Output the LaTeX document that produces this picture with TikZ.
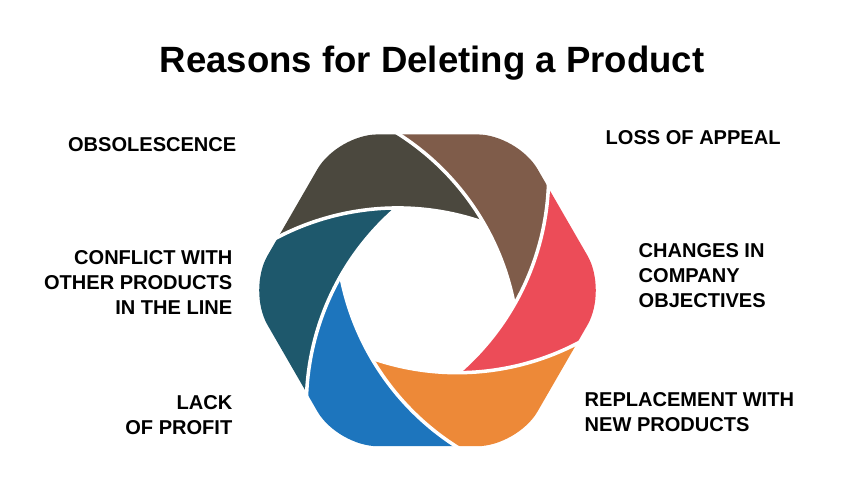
\documentclass[tikz,border=0pt]{standalone}
\usepackage{fontspec}
\setmainfont{Liberation Sans}
\usepackage{xcolor}
\definecolor{swirlDark}{HTML}{4B483E}
\definecolor{swirlBrown}{HTML}{7F5C4A}
\definecolor{swirlRed}{HTML}{EC4C58}
\definecolor{swirlOrange}{HTML}{ED8938}
\definecolor{swirlBlue}{HTML}{1D75BD}
\definecolor{swirlTeal}{HTML}{1E586C}
\tikzset{
	heading/.style={inner sep=0pt, font=\fontsize{10.4}{12}\selectfont\bfseries},
	reason/.style={inner sep=0pt, font=\fontsize{5.7}{7.1}\selectfont\bfseries},
	gap/.style={white, line width=1pt}
}

\begin{document}
\begin{tikzpicture}[scale=0.01]
			\useasboundingbox (-427.5,-204.7) rectangle (437.5,290.3);

			% Swirl pieces, clockwise from the top left
			\foreach \k/\col in {0/swirlDark,1/swirlBrown,2/swirlRed,3/swirlOrange,4/swirlBlue,5/swirlTeal}{
				\begin{scope}
					\clip[rounded corners=0.4cm] (0,155.9) -- (60:180) -- (0:180) -- (-60:180) -- (-120:180) -- (180:180) -- (120:180) -- cycle;
					\clip ({200.5-60*\k}:180.5) circle[radius=260.4];
					\fill[\col, even odd rule] (-300,-300) rectangle (300,300) ({260.5-60*\k}:180.5) circle[radius=260.4];
				\end{scope}
			}

			% White gaps between the pieces
			\foreach \k in {0,...,5}{
				\draw[gap, shift={({260.5-60*\k}:180.5)}] ({128-60*\k}:260.4) arc[start angle={128-60*\k}, end angle={70.8-60*\k}, radius=260.4];
			}

			% Title
			\node[heading, anchor=north] (title) at (4.5,245.3) {Reasons for Deleting a Product};

			% Reasons
			\node[reason, anchor=north east] (obsolescence) at (-190.5,153.3) {OBSOLESCENCE};
			\node[reason, anchor=north east, align=right] (conflict) at (-194.5,40.3) {CONFLICT WITH\\OTHER PRODUCTS\\IN THE LINE};
			\node[reason, anchor=north east, align=right] (profit) at (-194.5,-104.7) {LACK\\OF PROFIT};
			\node[reason, anchor=north west] (appeal) at (177.5,160.3) {LOSS OF APPEAL};
			\node[reason, anchor=north west, align=left] (objectives) at (210.5,47.3) {CHANGES IN\\COMPANY\\OBJECTIVES};
			\node[reason, anchor=north west, align=left] (replacement) at (156.5,-101.7) {REPLACEMENT WITH\\NEW PRODUCTS};
		\end{tikzpicture}
\end{document}
